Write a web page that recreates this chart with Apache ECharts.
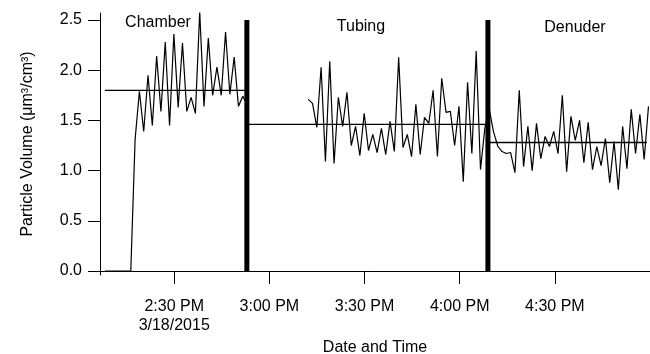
<!DOCTYPE html>
<html>
<head>
<meta charset="utf-8">
<script src="https://cdn.jsdelivr.net/npm/echarts@6/dist/echarts.min.js"></script>
<style>
  html, body { margin: 0; padding: 0; background: #fff; }
  #chart { width: 650px; height: 354px; }
</style>
</head>
<body>
<div id="chart"></div>
<script>
// tiempos en minutos desde las 2:00 PM del 3/18/2015
const sampleStep = 1.358;
const chamberStart = 8.16;
const tubingStart = 72.24;

const chamberVolume = [0, 0, 0, 0, 0, 0, 0, 1.31, 1.79, 1.39, 1.95, 1.45, 2.14, 1.59, 2.28, 1.45, 2.36,
  1.63, 2.27, 1.59, 1.73, 1.57, 2.58, 1.64, 2.32, 1.75, 2.03, 1.75, 2.38, 1.76, 2.13, 1.64, 1.74, 1.66];
const tubingVolume = [1.71, 1.67, 1.43, 2.03, 1.09, 2.09, 1.07, 1.73, 1.44, 1.78, 1.25, 1.44, 1.15, 1.57,
  1.20, 1.36, 1.18, 1.42, 1.16, 1.49, 1.19, 2.13, 1.23, 1.36, 1.14, 1.66, 1.16, 1.53, 1.47, 1.80, 1.14,
  1.92, 1.58, 1.59, 1.25, 1.64, 0.89, 1.88, 1.17, 2.19, 1.01, 1.42];
const denuderVolume = [1.62, 1.39, 1.245, 1.19, 1.17, 1.18, 0.98, 1.80, 1.04, 1.44, 1.00, 1.47, 1.12, 1.34,
  1.24, 1.39, 1.17, 1.75, 0.99, 1.54, 1.30, 1.50, 1.08, 1.48, 1.01, 1.24, 1.05, 1.32, 0.88, 1.29, 0.81,
  1.44, 1.02, 1.61, 1.17, 1.56, 1.11, 1.64];

const phaseNames = ['Chamber', 'Tubing', 'Denuder'];
const phaseBounds = [8.16, 52.9, 128.9, 179.0];
const phaseMeans = [1.80, 1.46, 1.28];
const dividerTimes = [52.9, 128.9];
const dividerTop = 2.5;

const xTicks = [30, 60, 90, 120, 150];
const yTicks = [0, 0.5, 1.0, 1.5, 2.0, 2.5];

const font = '"Liberation Sans", Arial, sans-serif';

const chamberData = chamberVolume.map((v, i) => [chamberStart + i * sampleStep, v]);
// tubing y denuder son una sola medicion continua
const flowData = tubingVolume.concat(denuderVolume).map((v, i) => [tubingStart + i * sampleStep, v]);

const series = [
  { type: 'line', data: chamberData },
  { type: 'line', data: flowData }
];
phaseMeans.forEach((m, i) => {
  series.push({ type: 'line', data: [[phaseBounds[i], m], [phaseBounds[i + 1], m]], lineStyle: { width: 1.3 } });
});
dividerTimes.forEach(t => {
  series.push({ type: 'line', data: [[t, 0], [t, dividerTop]], lineStyle: { width: 5 } });
});
series.forEach(s => {
  s.symbol = 'none';
  s.silent = true;
  s.animation = false;
  s.lineStyle = Object.assign({ color: '#000', width: 1.2 }, s.lineStyle);
});

function timeLabel(m) {
  const h = 2 + Math.floor(m / 60);
  const mm = String(Math.round(m % 60)).padStart(2, '0');
  const txt = h + ':' + mm + ' PM';
  return m === xTicks[0] ? txt + '\n3/18/2015' : txt;
}

const labelPos = [[158, 23], [361, 27], [575, 28]];

const option = {
  animation: false,
  grid: { left: 100, right: 0, top: 13, bottom: 79, outerBoundsMode: 'none', containLabel: false },
  xAxis: {
    type: 'value',
    min: 6.6,
    max: 180,
    name: 'Date and Time',
    nameLocation: 'middle',
    nameGap: 65,
    nameTextStyle: { fontFamily: font, fontSize: 16, color: '#000' },
    axisLine: { lineStyle: { color: '#000', width: 1 } },
    axisTick: { length: 13, customValues: xTicks, lineStyle: { color: '#000' } },
    axisLabel: {
      customValues: xTicks, margin: 22, lineHeight: 19,
      fontFamily: font, fontSize: 16, color: '#000',
      formatter: timeLabel
    },
    splitLine: { show: false }
  },
  yAxis: {
    type: 'value',
    min: -0.04,
    max: 2.57,
    name: 'Particle Volume (μm³/cm³)',
    nameLocation: 'middle',
    nameGap: 64,
    nameTextStyle: { fontFamily: font, fontSize: 16, color: '#000' },
    axisLine: { show: true, lineStyle: { color: '#000', width: 1 } },
    axisTick: { show: true, length: 12, customValues: yTicks, lineStyle: { color: '#000' } },
    axisLabel: {
      customValues: yTicks, margin: 18,
      fontFamily: font, fontSize: 16, color: '#000',
      formatter: v => v.toFixed(1)
    },
    splitLine: { show: false }
  },
  graphic: phaseNames.map((n, i) => ({
    type: 'text',
    x: labelPos[i][0],
    y: labelPos[i][1],
    style: { text: n, font: '16px ' + font, fill: '#000', textAlign: 'center', textVerticalAlign: 'middle' }
  })),
  series: series
};

const chart = echarts.init(document.getElementById('chart'));
chart.setOption(option);
</script>
</body>
</html>
